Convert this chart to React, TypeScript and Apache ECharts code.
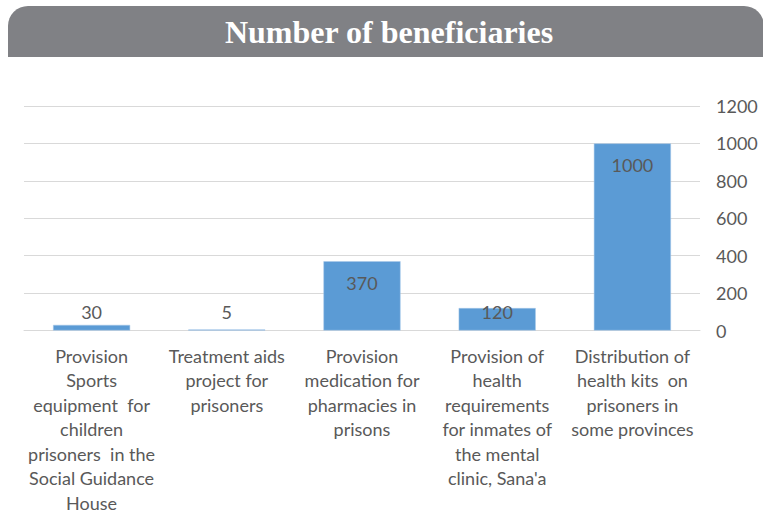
import React, { useEffect, useRef } from "react";
import * as echarts from "echarts";

const titleText = "Number of beneficiaries";
const categories = [
  "Provision\nSports\nequipment  for\nchildren\nprisoners  in the\nSocial Guidance\nHouse",
  "Treatment aids\nproject for\nprisoners",
  "Provision\nmedication for\npharmacies in\nprisons",
  "Provision of\nhealth\nrequirements\nfor inmates of\nthe mental\nclinic, Sana'a",
  "Distribution of\nhealth kits  on\nprisoners in\nsome provinces",
];
const values = [30, 5, 370, 120, 1000];
const yTicks = [0, 200, 400, 600, 800, 1000, 1200];

const FONT = "Lato, 'Noto Sans', sans-serif";
const TEXT = "#595959";

export default function App() {
  const ref = useRef<HTMLDivElement>(null);
  useEffect(() => {
    if (!ref.current) return;
    const chart = echarts.init(ref.current, null, { renderer: "svg" });
    const labelFor = (v: number, i: number) => {
      if (v >= 300) {
        return { show: true, position: "insideTop", distance: 13 };
      }
      const dist = [4, 9, 0, -13, 0][i];
      return { show: true, position: "top", distance: dist };
    };
    chart.setOption({
      animation: false,
      backgroundColor: "#ffffff",
      graphic: [
        {
          type: "rect",
          left: 8,
          top: 6,
          shape: { width: 756, height: 51, r: [20, 20, 0, 0] },
          style: { fill: "#808185" },
          z: 1,
        },
        {
          type: "text",
          x: 389,
          y: 32,
          style: {
            text: titleText,
            fill: "#ffffff",
            align: "center",
            verticalAlign: "middle",
            font: "bold 32px 'Liberation Serif', 'Times New Roman', serif",
          },
          z: 2,
        },
      ],
      grid: { left: 24, right: 63, top: 106, bottom: 183, containLabel: false },
      xAxis: {
        type: "category",
        data: categories,
        axisTick: { show: false },
        axisLine: { show: true, lineStyle: { color: "#d9d9d9", width: 1 } },
        axisLabel: {
          interval: 0,
          margin: 13,
          color: TEXT,
          fontFamily: FONT,
          fontSize: 18,
          lineHeight: 24.5,
          align: "center",
        },
      },
      yAxis: {
        type: "value",
        position: "right",
        min: 0,
        max: 1200,
        interval: 200,
        axisLine: { show: false },
        axisTick: { show: false },
        splitLine: { lineStyle: { color: "#d9d9d9", width: 1 } },
        axisLabel: {
          color: TEXT,
          fontFamily: FONT,
          fontSize: 18,
          align: "left",
          margin: 16,
          formatter: (v: number) => (yTicks.includes(v) ? String(v) : ""),
        },
      },
      series: [
        {
          type: "bar",
          data: values.map((v, i) => ({ value: v, label: labelFor(v, i) })),
          barWidth: "57%",
          itemStyle: { color: "#5b9bd5", borderColor: "#a9c8e8", borderWidth: 0.5 },
          label: {
            show: true,
            color: TEXT,
            fontFamily: FONT,
            fontSize: 18,
            lineHeight: 18,
          },
        },
      ],
    });
    return () => chart.dispose();
  }, []);
  return (
    <div
      ref={ref}
      style={{ position: "absolute", left: 0, top: 0, width: 763, height: 515 }}
    />
  );
}
